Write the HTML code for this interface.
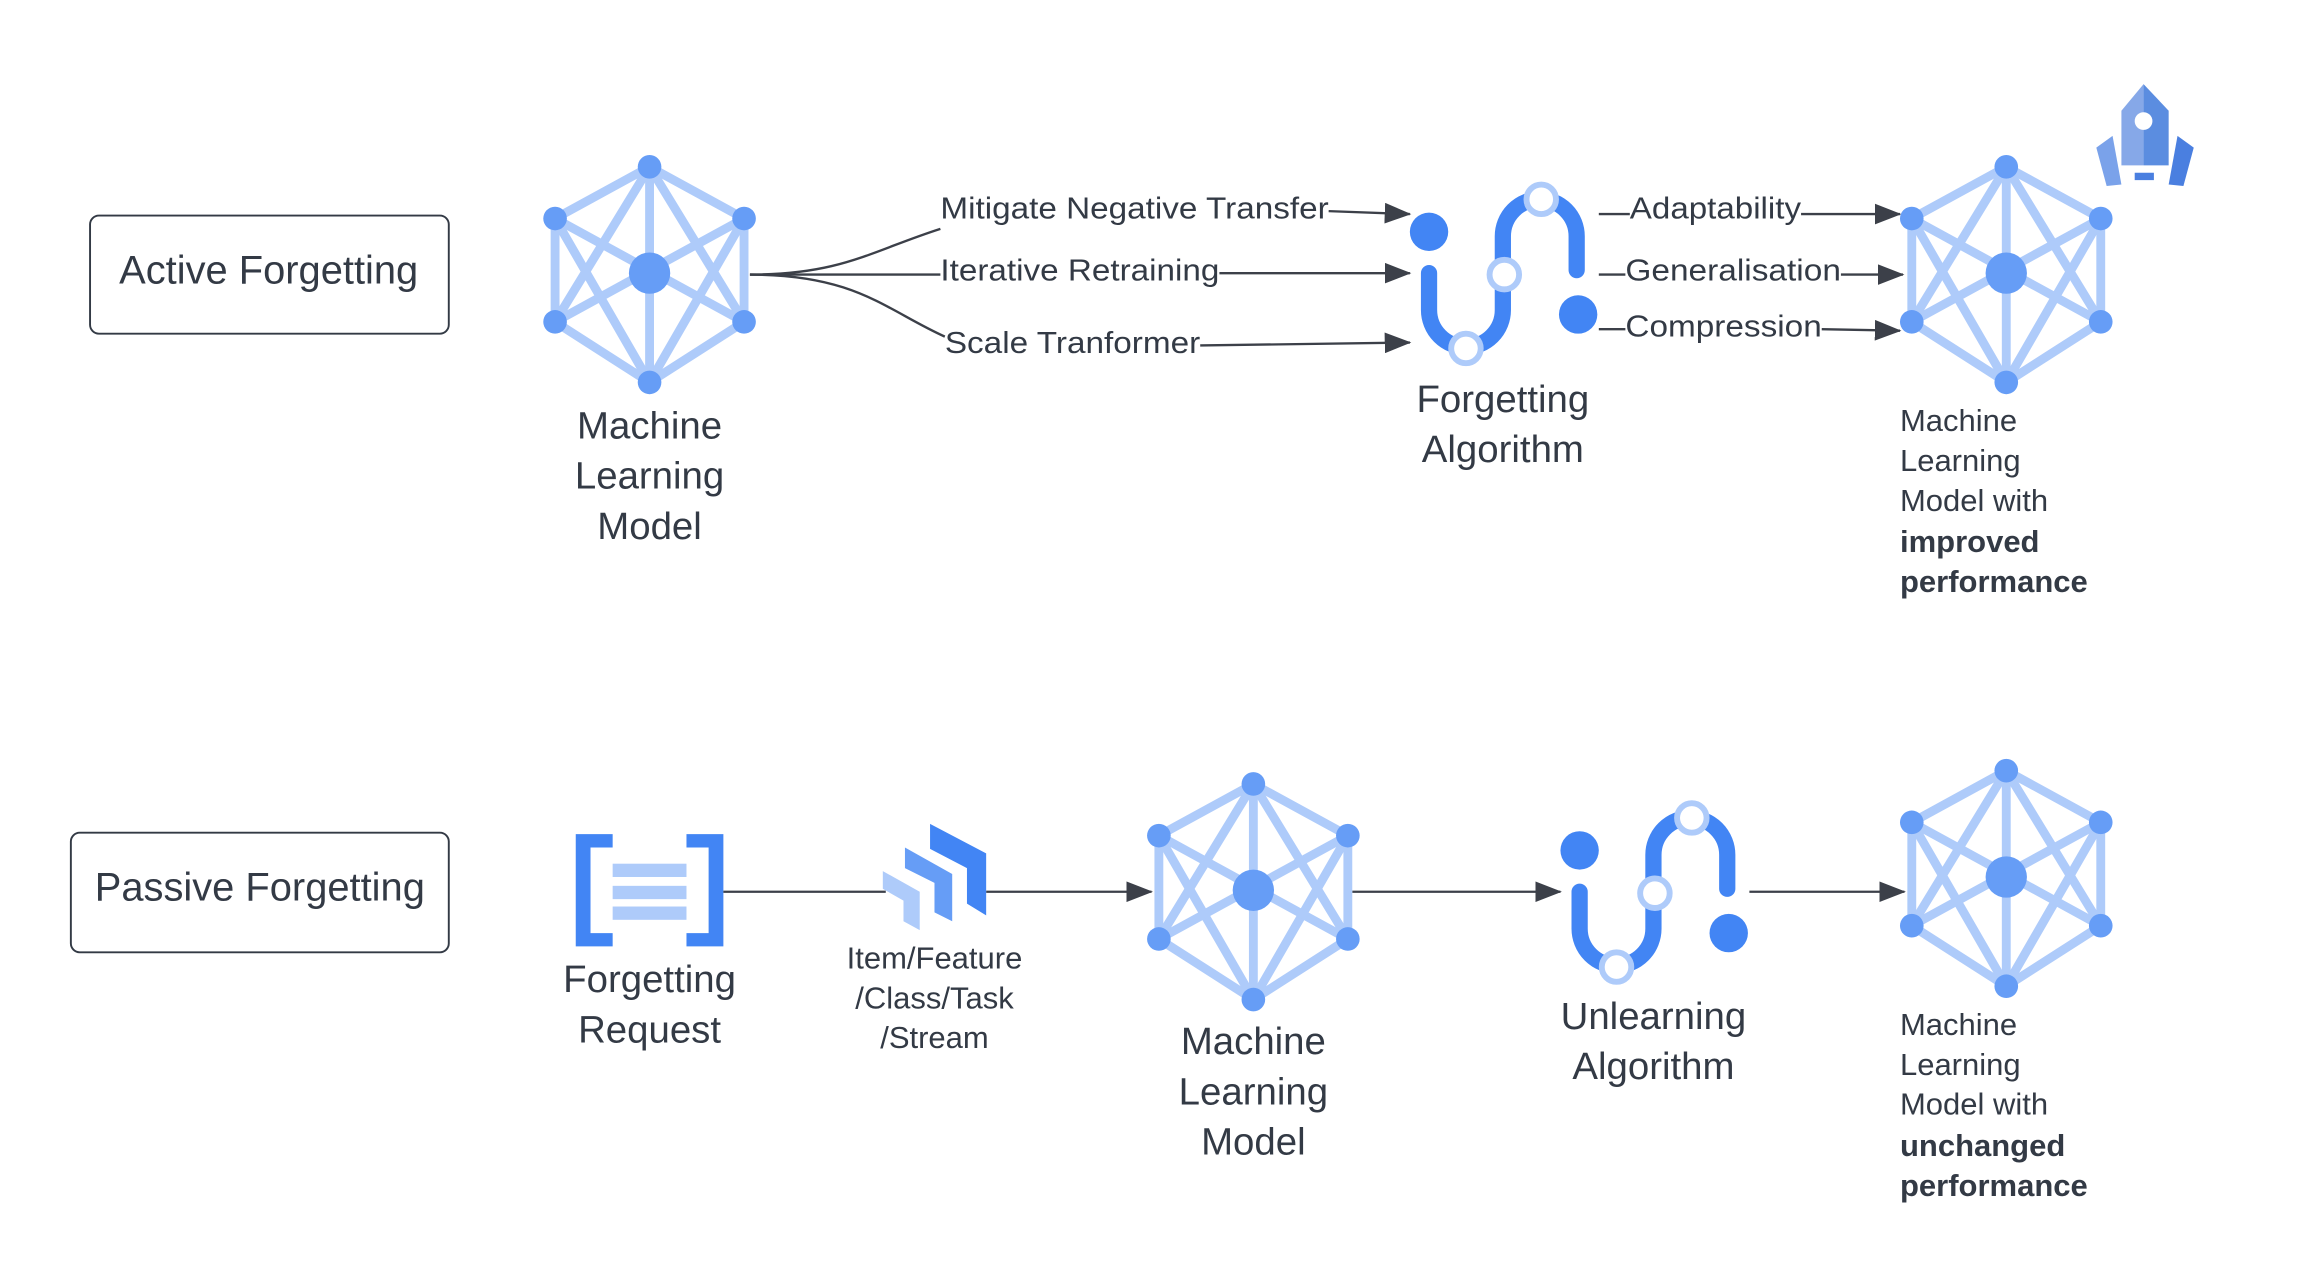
<!DOCTYPE html>
<html><head><meta charset="utf-8"><style>
html,body{margin:0;padding:0;background:#fff}
svg{display:block}
text{font-family:"Liberation Sans",sans-serif;fill:#333a45}
</style></head><body>
<svg width="2303" height="1283" viewBox="0 0 1560 869" preserveAspectRatio="none" xmlns="http://www.w3.org/2000/svg">
<defs>
<marker id="ah" markerWidth="18" markerHeight="14" refX="17" refY="7" orient="auto" markerUnits="userSpaceOnUse">
<path d="M0,0 L18,7 L0,14 Z" fill="#3c4049"/>
</marker>
<g id="net">
<g stroke="#aecbfa" stroke-width="6" stroke-linecap="round">
<line x1="0" y1="-72" x2="-64" y2="-37"/><line x1="0" y1="-72" x2="64" y2="-37"/>
<line x1="-64" y1="-37" x2="-64" y2="33"/><line x1="64" y1="-37" x2="64" y2="33"/>
<line x1="-64" y1="33" x2="0" y2="74"/><line x1="64" y1="33" x2="0" y2="74"/>
<line x1="0" y1="-72" x2="-64" y2="33"/><line x1="0" y1="-72" x2="64" y2="33"/>
<line x1="0" y1="74" x2="-64" y2="-37"/><line x1="0" y1="74" x2="64" y2="-37"/>
<line x1="0" y1="-72" x2="0" y2="74"/>
<line x1="-64" y1="-37" x2="64" y2="33"/><line x1="64" y1="-37" x2="-64" y2="33"/>
</g>
<g fill="#669df6">
<circle cx="0" cy="0" r="14"/>
<circle cx="0" cy="-72" r="8"/><circle cx="-64" cy="-37" r="8"/><circle cx="64" cy="-37" r="8"/>
<circle cx="-64" cy="33" r="8"/><circle cx="64" cy="33" r="8"/><circle cx="0" cy="74" r="8"/>
</g>
</g>
<g id="algo">
<circle cx="0" cy="0" r="13" fill="#4285f4"/>
<circle cx="101" cy="56" r="13" fill="#4285f4"/>
<path d="M0,28 V53 A25,25 0 0 0 50,53 V3 A25,25 0 0 1 100,3 V26" fill="none" stroke="#4285f4" stroke-width="11" stroke-linecap="round"/>
<g fill="#fff" stroke="#aecbfa" stroke-width="4">
<circle cx="25" cy="79" r="10"/><circle cx="51" cy="29" r="10"/><circle cx="76" cy="-22" r="10"/>
</g>
</g>
</defs>

<rect x="61" y="146" width="243" height="80" rx="6" fill="#fff" stroke="#333a45" stroke-width="1.3"/>
<text x="182" y="192" font-size="27" text-anchor="middle">Active Forgetting</text>

<use href="#net" x="440" y="185"/>
<g font-size="26" text-anchor="middle">
<text x="440" y="297">Machine</text><text x="440" y="331">Learning</text><text x="440" y="365">Model</text>
</g>

<g fill="none" stroke="#3c4049" stroke-width="1.6">
<path d="M508,186 C570,186 590,170 637,155"/>
<path d="M508,186 H637"/>
<path d="M508,186 C580,186 600,210 640,228"/>
<path d="M900,143 L955,145" marker-end="url(#ah)"/>
<path d="M826,185 L955,185" marker-end="url(#ah)"/>
<path d="M813,234 L955,232" marker-end="url(#ah)"/>
<path d="M1083,145 H1104"/><path d="M1220,145 L1287,145" marker-end="url(#ah)"/>
<path d="M1083,186 H1101"/><path d="M1247,186 L1289,186" marker-end="url(#ah)"/>
<path d="M1083,223 H1101"/><path d="M1234,223 L1287,224" marker-end="url(#ah)"/>
</g>
<g font-size="21">
<text x="637" y="148" textLength="263" lengthAdjust="spacingAndGlyphs">Mitigate Negative Transfer</text>
<text x="637" y="190" textLength="189" lengthAdjust="spacingAndGlyphs">Iterative Retraining</text>
<text x="640" y="239" textLength="173" lengthAdjust="spacingAndGlyphs">Scale Tranformer</text>
<text x="1104" y="148" textLength="116" lengthAdjust="spacingAndGlyphs">Adaptability</text>
<text x="1101" y="190" textLength="146" lengthAdjust="spacingAndGlyphs">Generalisation</text>
<text x="1101" y="228" textLength="133" lengthAdjust="spacingAndGlyphs">Compression</text>
</g>

<use href="#algo" x="968" y="157"/>
<g font-size="26" text-anchor="middle">
<text x="1018" y="279">Forgetting</text><text x="1018" y="313">Algorithm</text>
</g>

<use href="#net" x="1359" y="185"/>
<polygon points="1452,57 1469,75 1469,112 1452,112" fill="#5b8de0"/>
<polygon points="1452,57 1437,75 1437,112 1452,112" fill="#86a8e8"/>
<circle cx="1452" cy="82" r="6" fill="#fff"/>
<rect x="1446" y="117" width="13" height="5" fill="#4a7fe0"/>
<polygon points="1420,100 1431,92 1437,125 1427,126" fill="#7aa2ea"/>
<polygon points="1486,100 1475,92 1469,125 1479,126" fill="#4a7fe0"/>
<g font-size="21">
<text x="1287" y="292">Machine</text><text x="1287" y="319">Learning</text><text x="1287" y="346">Model with</text>
<text x="1287" y="374" font-weight="bold">improved</text><text x="1287" y="401" font-weight="bold">performance</text>
</g>

<rect x="48" y="564" width="256" height="81" rx="6" fill="#fff" stroke="#333a45" stroke-width="1.3"/>
<text x="176" y="610" font-size="27" text-anchor="middle">Passive Forgetting</text>

<g fill="#4285f4">
<path d="M390,565 H415 V574 H400 V632 H415 V641 H390 Z"/>
<path d="M490,565 H465 V574 H480 V632 H465 V641 H490 Z"/>
</g>
<g fill="#aecbfa">
<rect x="415" y="585" width="50" height="9"/><rect x="415" y="600" width="50" height="9"/><rect x="415" y="614" width="50" height="9"/>
</g>
<g font-size="26" text-anchor="middle">
<text x="440" y="672">Forgetting</text><text x="440" y="706">Request</text>
</g>

<g fill="none" stroke="#3c4049" stroke-width="1.6">
<path d="M490,604 H600"/>
<path d="M668,604 L780,604" marker-end="url(#ah)"/>
<path d="M916,604 L1057,604" marker-end="url(#ah)"/>
<path d="M1185,604 L1290,604" marker-end="url(#ah)"/>
</g>
<polygon points="630,558 668,578 668,620 655,612 655,588 630,575" fill="#4285f4"/>
<polygon points="613,574 645,592 645,624 633,618 633,598 613,588" fill="#669df6"/>
<polygon points="598,590 623,604 623,630 612,624 612,610 598,602" fill="#aecbfa"/>
<g font-size="21" text-anchor="middle">
<text x="633" y="656">Item/Feature</text><text x="633" y="683">/Class/Task</text><text x="633" y="710">/Stream</text>
</g>

<use href="#net" x="849" y="603"/>
<g font-size="26" text-anchor="middle">
<text x="849" y="714">Machine</text><text x="849" y="748">Learning</text><text x="849" y="782">Model</text>
</g>

<use href="#algo" x="1070" y="576"/>
<g font-size="26" text-anchor="middle">
<text x="1120" y="697">Unlearning</text><text x="1120" y="731">Algorithm</text>
</g>

<use href="#net" x="1359" y="594"/>
<g font-size="21">
<text x="1287" y="701">Machine</text><text x="1287" y="728">Learning</text><text x="1287" y="755">Model with</text>
<text x="1287" y="783" font-weight="bold">unchanged</text><text x="1287" y="810" font-weight="bold">performance</text>
</g>
</svg>
</body></html>
